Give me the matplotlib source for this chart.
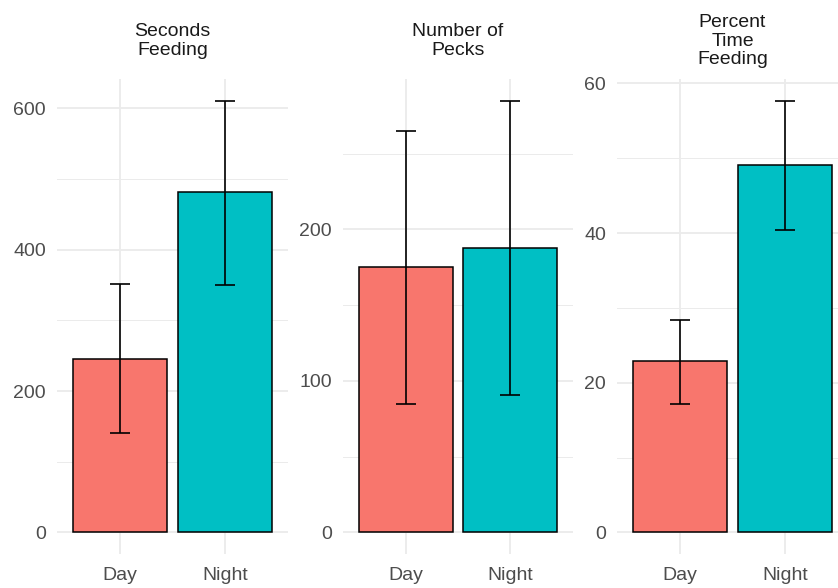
import numpy as np
import matplotlib.pyplot as plt

# Dati
periods = ["Day", "Night"]
titles = ["Seconds\nFeeding", "Number of\nPecks", "Percent\nTime\nFeeding"]
means = [[246, 481], [175, 188], [22.9, 49.1]]
err_low = [[140, 350], [85, 91], [17.2, 40.4]]
err_high = [[352, 611], [265, 285], [28.4, 57.7]]
major_ticks = [[0, 200, 400, 600], [0, 100, 200], [0, 20, 40, 60]]
minor_ticks = [[100, 300, 500], [50, 150, 250], [10, 30, 50]]

colors = ["#F8766D", "#00BFC4"]
plt.rcParams['font.family'] = ['Liberation Sans', 'DejaVu Sans']

W, H = 838, 588
fig = plt.figure(figsize=(W / 100, H / 100), dpi=100)

# posizioni dei pannelli in pixel (sinistra, destra)
panel_px = [(57, 288), (343, 573), (617, 848)]
top_px, bottom_px = 79, 554

for i in range(3):
    l, r = panel_px[i]
    ax = fig.add_axes([l / W, 1 - bottom_px / H, (r - l) / W, (bottom_px - top_px) / H])
    x = np.arange(len(periods))
    m = np.array(means[i])
    lo = np.array(err_low[i])
    hi = np.array(err_high[i])
    ax.bar(x, m, width=0.9, color=colors, edgecolor="black", linewidth=1.1, zorder=2)
    ax.errorbar(x, m, yerr=[m - lo, hi - m], fmt="none", ecolor="black",
                elinewidth=1.2, capsize=7, capthick=1.2, zorder=3)

    top = hi.max()
    pad = top * 0.05
    ax.set_ylim(-pad, top + pad)
    ax.set_xlim(-0.6, 1.6)

    ax.set_yticks(major_ticks[i])
    ax.set_yticks(minor_ticks[i], minor=True)
    ax.set_xticks(x)
    ax.set_xticklabels(periods)
    ax.grid(True, which="major", color="#EBEBEB", linewidth=1.3, zorder=0)
    ax.grid(True, which="minor", axis="y", color="#EBEBEB", linewidth=0.7, zorder=0)
    ax.set_axisbelow(True)
    for s in ax.spines.values():
        s.set_visible(False)
    ax.tick_params(which="both", length=0)
    ax.tick_params(axis="y", pad=8, labelsize=14, labelcolor="#4D4D4D")
    ax.tick_params(axis="x", pad=9, labelsize=14, labelcolor="#4D4D4D")

    fig.text((l + r) / 2 / W, 1 - 41 / H, titles[i], ha="center", va="center",
             fontsize=14, color="#1A1A1A", linespacing=1.12)

fig.savefig("out.png", dpi=100)
